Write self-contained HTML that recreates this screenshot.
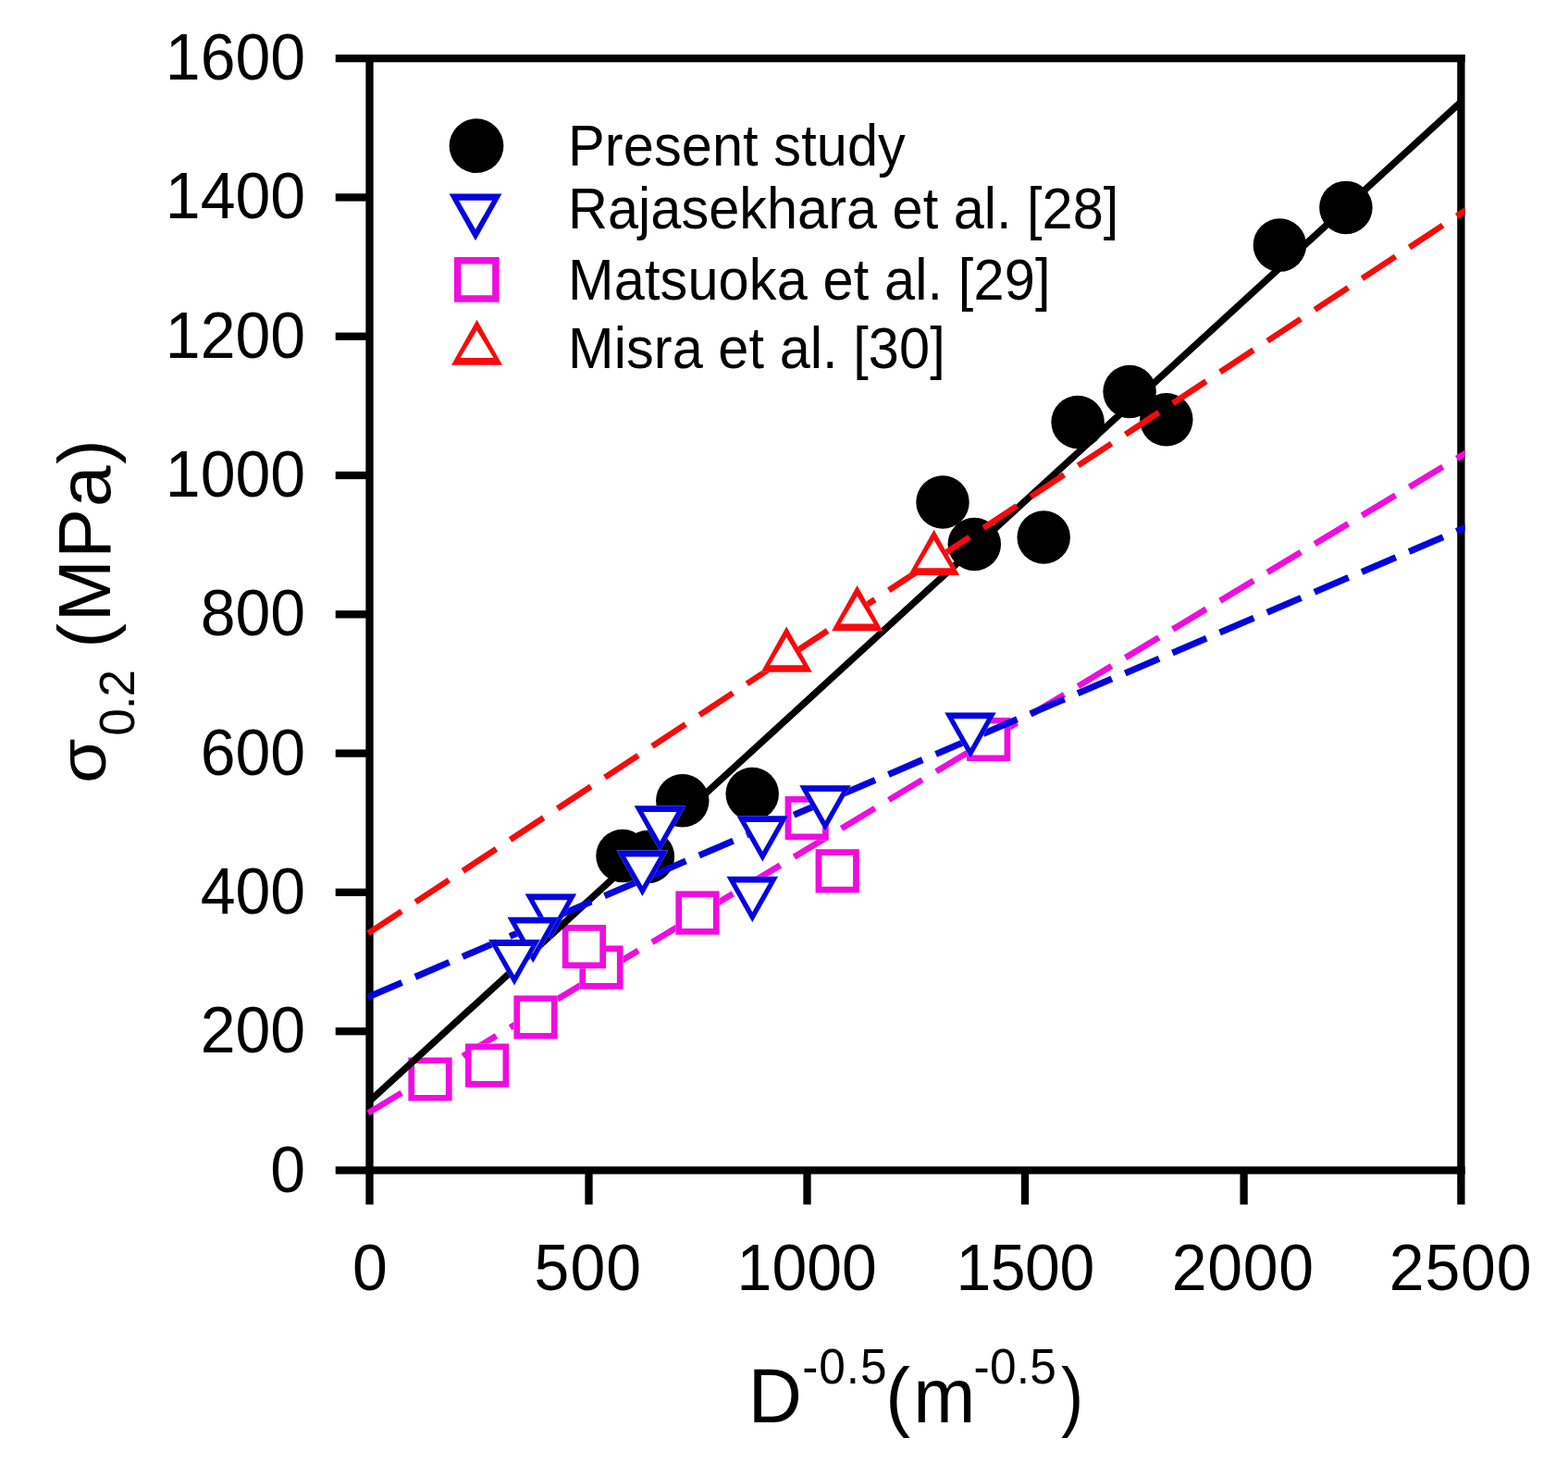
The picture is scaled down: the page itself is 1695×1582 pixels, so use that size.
<!DOCTYPE html>
<html><head><meta charset="utf-8"><title>Yield strength vs grain size</title>
<style>html,body{margin:0;padding:0;background:#fff;overflow:hidden;}svg{display:block;}text{font-family:"Liberation Sans",Arial,sans-serif;fill:#000;}</style></head><body>
<svg width="1695" height="1582" viewBox="0 0 1695 1582">
<rect x="0" y="0" width="1695" height="1582" fill="#fff"/>
<defs><clipPath id="pc"><rect x="395" y="0" width="1188.6" height="1582"/></clipPath></defs>
<g fill="#000">
<rect x="395.35" y="59.00" width="8.3" height="1210.65"/>
<rect x="1575.25" y="59.00" width="8.3" height="1210.65"/>
<rect x="395.35" y="59.00" width="1188.20" height="8.3"/>
<rect x="395.35" y="1261.35" width="1188.20" height="8.3"/>
<rect x="362.70" y="1261.35" width="36.80" height="8.3"/>
<rect x="362.70" y="1111.06" width="36.80" height="8.3"/>
<rect x="362.70" y="960.76" width="36.80" height="8.3"/>
<rect x="362.70" y="810.47" width="36.80" height="8.3"/>
<rect x="362.70" y="660.17" width="36.80" height="8.3"/>
<rect x="362.70" y="509.88" width="36.80" height="8.3"/>
<rect x="362.70" y="359.59" width="36.80" height="8.3"/>
<rect x="362.70" y="209.29" width="36.80" height="8.3"/>
<rect x="362.70" y="59.00" width="36.80" height="8.3"/>
<rect x="395.35" y="1265.50" width="8.3" height="37.00"/>
<rect x="632.35" y="1265.50" width="8.3" height="37.00"/>
<rect x="868.35" y="1265.50" width="8.3" height="37.00"/>
<rect x="1103.85" y="1265.50" width="8.3" height="37.00"/>
<rect x="1340.45" y="1265.50" width="8.3" height="37.00"/>
<rect x="1575.25" y="1265.50" width="8.3" height="37.00"/>
</g>
<text transform="translate(292.25 1288.50) scale(1.0000 1.0250)" font-size="68">0</text>
<text transform="translate(216.65 1138.21) scale(1.0000 1.0250)" font-size="68">200</text>
<text transform="translate(216.65 987.91) scale(1.0000 1.0250)" font-size="68">400</text>
<text transform="translate(216.65 837.62) scale(1.0000 1.0250)" font-size="68">600</text>
<text transform="translate(216.65 687.32) scale(1.0000 1.0250)" font-size="68">800</text>
<text transform="translate(178.85 537.03) scale(1.0000 1.0250)" font-size="68">1000</text>
<text transform="translate(178.85 386.74) scale(1.0000 1.0250)" font-size="68">1200</text>
<text transform="translate(178.85 236.44) scale(1.0000 1.0250)" font-size="68">1400</text>
<text transform="translate(178.85 86.15) scale(1.0000 1.0250)" font-size="68">1600</text>
<text transform="translate(381.00 1394.50) scale(1.0000 1.0250)" font-size="68">0</text>
<text transform="translate(577.59 1394.50) scale(1.0000 1.0250)" font-size="68" textLength="115.41" lengthAdjust="spacing">500</text>
<text transform="translate(796.57 1394.50) scale(1.0000 1.0250)" font-size="68">1000</text>
<text transform="translate(1033.51 1394.50) scale(1.0000 1.0250)" font-size="68" textLength="149.74" lengthAdjust="spacing">1500</text>
<text transform="translate(1266.79 1394.50) scale(1.0000 1.0250)" font-size="68" textLength="153.34" lengthAdjust="spacing">2000</text>
<text transform="translate(1501.83 1394.50) scale(1.0000 1.0250)" font-size="68" textLength="153.67" lengthAdjust="spacing">2500</text>
<g>
<circle cx="673" cy="925.5" r="28.75" fill="#000"/>
<circle cx="700.4" cy="926.5" r="28.75" fill="#000"/>
<circle cx="737.8" cy="865.8" r="28.75" fill="#000"/>
<circle cx="813.2" cy="858.6" r="28.75" fill="#000"/>
<circle cx="1019" cy="543" r="28.75" fill="#000"/>
<circle cx="1053.3" cy="588.5" r="28.75" fill="#000"/>
<circle cx="1128.2" cy="581" r="28.75" fill="#000"/>
<circle cx="1165.1" cy="456.5" r="28.75" fill="#000"/>
<circle cx="1221.1" cy="423.5" r="28.75" fill="#000"/>
<circle cx="1260.8" cy="453.8" r="28.75" fill="#000"/>
<circle cx="1383.4" cy="265.1" r="28.75" fill="#000"/>
<circle cx="1454.9" cy="224.4" r="28.75" fill="#000"/>
</g>
<path fill="#f00ce0" clip-path="url(#pc)" d="M396.30 1200.67 L432.50 1178.90 L435.90 1184.56 L399.70 1206.33Z M447.46 1169.90 L483.66 1148.13 L487.06 1153.79 L450.86 1175.56Z M498.62 1139.14 L534.82 1117.36 L538.22 1123.02 L502.02 1144.79Z M549.78 1108.37 L585.98 1086.59 L589.38 1092.25 L553.18 1114.02Z M600.94 1077.60 L637.14 1055.82 L640.54 1061.48 L604.34 1083.25Z M652.10 1046.83 L688.30 1025.05 L691.70 1030.71 L655.50 1052.48Z M703.26 1016.06 L739.46 994.28 L742.86 999.94 L706.66 1021.71Z M754.42 985.29 L790.62 963.52 L794.02 969.17 L757.82 990.94Z M805.58 954.52 L841.78 932.75 L845.18 938.40 L808.98 960.17Z M856.74 923.75 L892.94 901.98 L896.34 907.63 L860.14 929.40Z M907.90 892.98 L944.10 871.21 L947.50 876.86 L911.30 898.63Z M959.06 862.21 L995.26 840.44 L998.66 846.09 L962.46 867.86Z M1010.22 831.44 L1046.42 809.67 L1049.82 815.32 L1013.62 837.09Z M1061.38 800.67 L1097.58 778.90 L1100.98 784.55 L1064.78 806.32Z M1112.54 769.90 L1148.74 748.13 L1152.14 753.78 L1115.94 775.55Z M1163.70 739.13 L1199.90 717.36 L1203.30 723.01 L1167.10 744.78Z M1214.86 708.36 L1251.06 686.59 L1254.46 692.24 L1218.26 714.01Z M1266.02 677.59 L1302.22 655.82 L1305.62 661.47 L1269.42 683.24Z M1317.18 646.82 L1353.38 625.05 L1356.78 630.70 L1320.58 652.47Z M1368.34 616.05 L1404.54 594.28 L1407.94 599.93 L1371.74 621.70Z M1419.50 585.28 L1455.70 563.51 L1459.10 569.16 L1422.90 590.94Z M1470.66 554.51 L1506.86 532.74 L1510.26 538.39 L1474.06 560.17Z M1521.82 523.74 L1558.02 501.97 L1561.42 507.62 L1525.22 529.40Z M1572.98 492.97 L1609.18 471.20 L1612.58 476.85 L1576.38 498.63Z"/>
<g>
<path fill="#fff" d="M441.40 1143.40 L488.60 1143.40 L488.60 1190.60 L441.40 1190.60Z"/><path fill="#f00ce0" fill-rule="evenodd" d="M441.40 1143.40 L488.60 1143.40 L488.60 1190.60 L441.40 1190.60Z M448.10 1150.10 L481.90 1150.10 L481.90 1183.90 L448.10 1183.90Z"/>
<path fill="#fff" d="M503.00 1128.60 L550.20 1128.60 L550.20 1175.80 L503.00 1175.80Z"/><path fill="#f00ce0" fill-rule="evenodd" d="M503.00 1128.60 L550.20 1128.60 L550.20 1175.80 L503.00 1175.80Z M509.70 1135.30 L543.50 1135.30 L543.50 1169.10 L509.70 1169.10Z"/>
<path fill="#fff" d="M555.40 1076.40 L602.60 1076.40 L602.60 1123.60 L555.40 1123.60Z"/><path fill="#f00ce0" fill-rule="evenodd" d="M555.40 1076.40 L602.60 1076.40 L602.60 1123.60 L555.40 1123.60Z M562.10 1083.10 L595.90 1083.10 L595.90 1116.90 L562.10 1116.90Z"/>
<path fill="#fff" d="M626.40 1022.60 L673.60 1022.60 L673.60 1069.80 L626.40 1069.80Z"/><path fill="#f00ce0" fill-rule="evenodd" d="M626.40 1022.60 L673.60 1022.60 L673.60 1069.80 L626.40 1069.80Z M633.10 1029.30 L666.90 1029.30 L666.90 1063.10 L633.10 1063.10Z"/>
<path fill="#fff" d="M607.80 1000.00 L655.00 1000.00 L655.00 1047.20 L607.80 1047.20Z"/><path fill="#f00ce0" fill-rule="evenodd" d="M607.80 1000.00 L655.00 1000.00 L655.00 1047.20 L607.80 1047.20Z M614.50 1006.70 L648.30 1006.70 L648.30 1040.50 L614.50 1040.50Z"/>
<path fill="#fff" d="M730.40 963.60 L777.60 963.60 L777.60 1010.80 L730.40 1010.80Z"/><path fill="#f00ce0" fill-rule="evenodd" d="M730.40 963.60 L777.60 963.60 L777.60 1010.80 L730.40 1010.80Z M737.10 970.30 L770.90 970.30 L770.90 1004.10 L737.10 1004.10Z"/>
<path fill="#fff" d="M848.60 861.00 L895.80 861.00 L895.80 908.20 L848.60 908.20Z"/><path fill="#f00ce0" fill-rule="evenodd" d="M848.60 861.00 L895.80 861.00 L895.80 908.20 L848.60 908.20Z M855.30 867.70 L889.10 867.70 L889.10 901.50 L855.30 901.50Z"/>
<path fill="#fff" d="M881.60 918.20 L928.80 918.20 L928.80 965.40 L881.60 965.40Z"/><path fill="#f00ce0" fill-rule="evenodd" d="M881.60 918.20 L928.80 918.20 L928.80 965.40 L881.60 965.40Z M888.30 924.90 L922.10 924.90 L922.10 958.70 L888.30 958.70Z"/>
<path fill="#fff" d="M1045.10 775.90 L1092.30 775.90 L1092.30 823.10 L1045.10 823.10Z"/><path fill="#f00ce0" fill-rule="evenodd" d="M1045.10 775.90 L1092.30 775.90 L1092.30 823.10 L1045.10 823.10Z M1051.80 782.60 L1085.60 782.60 L1085.60 816.40 L1051.80 816.40Z"/>
</g>
<path fill="#000" d="M399.50 1185.78 L1579.50 105.03 L1579.50 115.07 L399.50 1195.82Z"/>
<path fill="#0505dc" clip-path="url(#pc)" d="M396.30 1075.02 L433.11 1059.26 L435.90 1065.77 L399.09 1081.53Z M447.46 1053.12 L484.27 1037.36 L487.06 1043.87 L450.25 1059.63Z M498.62 1031.22 L535.43 1015.46 L538.22 1021.97 L501.41 1037.73Z M549.78 1009.32 L586.59 993.56 L589.38 1000.07 L552.57 1015.83Z M600.94 987.42 L637.75 971.66 L640.54 978.17 L603.73 993.93Z M652.10 965.52 L688.91 949.77 L691.70 956.27 L654.89 972.03Z M703.26 943.63 L740.07 927.87 L742.86 934.37 L706.05 950.13Z M754.42 921.73 L791.23 905.97 L794.02 912.48 L757.21 928.23Z M805.58 899.83 L842.39 884.07 L845.18 890.58 L808.37 906.33Z M856.74 877.93 L893.55 862.17 L896.34 868.68 L859.53 884.44Z M907.90 856.03 L944.71 840.27 L947.50 846.78 L910.69 862.54Z M959.06 834.13 L995.87 818.37 L998.66 824.88 L961.85 840.64Z M1010.22 812.23 L1047.03 796.47 L1049.82 802.98 L1013.01 818.74Z M1061.38 790.33 L1098.19 774.57 L1100.98 781.08 L1064.17 796.84Z M1112.54 768.43 L1149.35 752.67 L1152.14 759.18 L1115.33 774.94Z M1163.70 746.53 L1200.51 730.78 L1203.30 737.28 L1166.49 753.04Z M1214.86 724.63 L1251.67 708.88 L1254.46 715.38 L1217.65 731.14Z M1266.02 702.74 L1302.83 686.98 L1305.62 693.48 L1268.81 709.24Z M1317.18 680.84 L1353.99 665.08 L1356.78 671.59 L1319.97 687.34Z M1368.34 658.94 L1405.15 643.18 L1407.94 649.69 L1371.13 665.44Z M1419.50 637.04 L1456.31 621.28 L1459.10 627.79 L1422.29 643.55Z M1470.66 615.14 L1507.47 599.38 L1510.26 605.89 L1473.45 621.65Z M1521.82 593.24 L1558.63 577.48 L1561.42 583.99 L1524.61 599.75Z M1572.98 571.34 L1609.79 555.58 L1612.58 562.09 L1575.77 577.85Z"/>
<g>
<path fill="#fff" d="M567.60 966.50 L623.20 966.50 L595.40 1016.00Z"/><path fill="#0505dc" fill-rule="evenodd" d="M567.60 966.50 L623.20 966.50 L595.40 1016.00Z M577.40 973.30 L613.40 973.30 L595.40 1005.00Z"/>
<path fill="#fff" d="M548.50 991.80 L604.10 991.80 L576.30 1041.30Z"/><path fill="#0505dc" fill-rule="evenodd" d="M548.50 991.80 L604.10 991.80 L576.30 1041.30Z M558.30 998.60 L594.30 998.60 L576.30 1030.30Z"/>
<path fill="#fff" d="M528.20 1016.10 L583.80 1016.10 L556.00 1065.60Z"/><path fill="#0505dc" fill-rule="evenodd" d="M528.20 1016.10 L583.80 1016.10 L556.00 1065.60Z M538.00 1022.90 L574.00 1022.90 L556.00 1054.60Z"/>
<path fill="#fff" d="M685.60 871.20 L741.20 871.20 L713.40 920.70Z"/><path fill="#0505dc" fill-rule="evenodd" d="M685.60 871.20 L741.20 871.20 L713.40 920.70Z M695.40 878.00 L731.40 878.00 L713.40 909.70Z"/>
<path fill="#fff" d="M666.60 919.60 L722.20 919.60 L694.40 969.10Z"/><path fill="#0505dc" fill-rule="evenodd" d="M666.60 919.60 L722.20 919.60 L694.40 969.10Z M676.40 926.40 L712.40 926.40 L694.40 958.10Z"/>
<path fill="#fff" d="M785.50 947.80 L841.10 947.80 L813.30 997.30Z"/><path fill="#0505dc" fill-rule="evenodd" d="M785.50 947.80 L841.10 947.80 L813.30 997.30Z M795.30 954.60 L831.30 954.60 L813.30 986.30Z"/>
<path fill="#fff" d="M796.50 882.30 L852.10 882.30 L824.30 931.80Z"/><path fill="#0505dc" fill-rule="evenodd" d="M796.50 882.30 L852.10 882.30 L824.30 931.80Z M806.30 889.10 L842.30 889.10 L824.30 920.80Z"/>
<path fill="#fff" d="M864.20 849.30 L919.80 849.30 L892.00 898.80Z"/><path fill="#0505dc" fill-rule="evenodd" d="M864.20 849.30 L919.80 849.30 L892.00 898.80Z M874.00 856.10 L910.00 856.10 L892.00 887.80Z"/>
<path fill="#fff" d="M1021.20 770.40 L1076.80 770.40 L1049.00 819.90Z"/><path fill="#0505dc" fill-rule="evenodd" d="M1021.20 770.40 L1076.80 770.40 L1049.00 819.90Z M1031.00 777.20 L1067.00 777.20 L1049.00 808.90Z"/>
</g>
<path fill="#f80a0a" clip-path="url(#pc)" d="M396.30 1006.46 L432.36 982.69 L435.90 988.06 L399.84 1011.83Z M447.46 972.75 L483.52 948.98 L487.06 954.35 L451.00 978.11Z M498.62 939.03 L534.68 915.27 L538.22 920.64 L502.16 944.40Z M549.78 905.32 L585.84 881.55 L589.38 886.92 L553.32 910.69Z M600.94 871.60 L637.00 847.84 L640.54 853.21 L604.48 876.97Z M652.10 837.89 L688.16 814.13 L691.70 819.50 L655.64 843.26Z M703.26 804.18 L739.32 780.41 L742.86 785.78 L706.80 809.55Z M754.42 770.46 L790.48 746.70 L794.02 752.07 L757.96 775.83Z M805.58 736.75 L841.64 712.99 L845.18 718.35 L809.12 742.12Z M856.74 703.04 L892.80 679.27 L896.34 684.64 L860.28 708.41Z M907.90 669.32 L943.96 645.56 L947.50 650.93 L911.44 674.69Z M959.06 635.61 L995.12 611.85 L998.66 617.21 L962.60 640.98Z M1010.22 601.90 L1046.28 578.13 L1049.82 583.50 L1013.76 607.26Z M1061.38 568.18 L1097.44 544.42 L1100.98 549.79 L1064.92 573.55Z M1112.54 534.47 L1148.60 510.70 L1152.14 516.07 L1116.08 539.84Z M1163.70 500.76 L1199.76 476.99 L1203.30 482.36 L1167.24 506.12Z M1214.86 467.04 L1250.92 443.28 L1254.46 448.65 L1218.40 472.41Z M1266.02 433.33 L1302.08 409.56 L1305.62 414.93 L1269.56 438.70Z M1317.18 399.61 L1353.24 375.85 L1356.78 381.22 L1320.72 404.98Z M1368.34 365.90 L1404.40 342.14 L1407.94 347.51 L1371.88 371.27Z M1419.50 332.19 L1455.56 308.42 L1459.10 313.79 L1423.04 337.56Z M1470.66 298.47 L1506.72 274.71 L1510.26 280.08 L1474.20 303.84Z M1521.82 264.76 L1557.88 241.00 L1561.42 246.36 L1525.36 270.13Z M1572.98 231.05 L1609.04 207.28 L1612.58 212.65 L1576.52 236.42Z"/>
<g>
<path fill="#fff" d="M850.20 677.60 L877.70 726.80 L822.70 726.80Z"/><path fill="#f80a0a" fill-rule="evenodd" d="M850.20 677.60 L877.70 726.80 L822.70 726.80Z M850.20 689.00 L868.20 719.20 L832.20 719.20Z"/>
<path fill="#fff" d="M926.60 633.00 L954.10 682.20 L899.10 682.20Z"/><path fill="#f80a0a" fill-rule="evenodd" d="M926.60 633.00 L954.10 682.20 L899.10 682.20Z M926.60 644.40 L944.60 674.60 L908.60 674.60Z"/>
<path fill="#fff" d="M1009.60 572.70 L1037.10 621.90 L982.10 621.90Z"/><path fill="#f80a0a" fill-rule="evenodd" d="M1009.60 572.70 L1037.10 621.90 L982.10 621.90Z M1009.60 584.10 L1027.60 614.30 L991.60 614.30Z"/>
</g>
<circle cx="515" cy="157.7" r="29.4" fill="#000"/>
<path fill="#fff" d="M485.55 209.60 L542.45 209.60 L514.00 260.30Z"/><path fill="#0505dc" fill-rule="evenodd" d="M485.55 209.60 L542.45 209.60 L514.00 260.30Z M495.95 216.70 L532.05 216.70 L514.00 248.00Z"/>
<path fill="#fff" d="M490.95 278.05 L539.65 278.05 L539.65 326.75 L490.95 326.75Z"/><path fill="#f00ce0" fill-rule="evenodd" d="M490.95 278.05 L539.65 278.05 L539.65 326.75 L490.95 326.75Z M498.45 285.55 L532.15 285.55 L532.15 319.25 L498.45 319.25Z"/>
<path fill="#fff" d="M515.50 345.80 L543.00 394.70 L488.00 394.70Z"/><path fill="#f80a0a" fill-rule="evenodd" d="M515.50 345.80 L543.00 394.70 L488.00 394.70Z M515.50 357.20 L533.55 387.10 L497.45 387.10Z"/>
<text transform="translate(614.05 179.00) scale(1.0000 1.0580)" font-size="59.5" textLength="364.83" lengthAdjust="spacing">Present study</text>
<text transform="translate(614.05 247.40) scale(1.0000 1.0580)" font-size="59.5" textLength="595.24" lengthAdjust="spacing">Rajasekhara et al. [28]</text>
<text transform="translate(614.05 323.80) scale(1.0000 1.0580)" font-size="59.5" textLength="521.36" lengthAdjust="spacing">Matsuoka et al. [29]</text>
<text transform="translate(614.05 397.90) scale(1.0000 1.0580)" font-size="59.5" textLength="407.64" lengthAdjust="spacing">Misra et al. [30]</text>
<g transform="translate(0,0) rotate(-90)">
<text transform="translate(-846.90 114.00) scale(1.0875 1.0000)" font-size="72">σ</text>
<text x="-795.70" y="145.00" font-size="53" textLength="71.58" lengthAdjust="spacing">0.2</text>
<text x="-700.75" y="119.00" font-size="80.6" textLength="225.59" lengthAdjust="spacing">(MPa)</text>
</g>
<text transform="translate(808.80 1538.40) scale(1.0000 1.0240)" font-size="80.6">D</text>
<text transform="translate(867.20 1495.60) scale(1.0000 1.0350)" font-size="51.5" textLength="91.41" lengthAdjust="spacing">-0.5</text>
<text transform="translate(957.25 1538.40) scale(1.0000 1.0240)" font-size="80.6" textLength="97.08" lengthAdjust="spacing">(m</text>
<text transform="translate(1052.55 1495.60) scale(1.0000 1.0350)" font-size="51.5" textLength="89.41" lengthAdjust="spacing">-0.5</text>
<text transform="translate(1146.95 1538.40) scale(0.9000 1.0240)" font-size="80.6">)</text>
</svg></body></html>
